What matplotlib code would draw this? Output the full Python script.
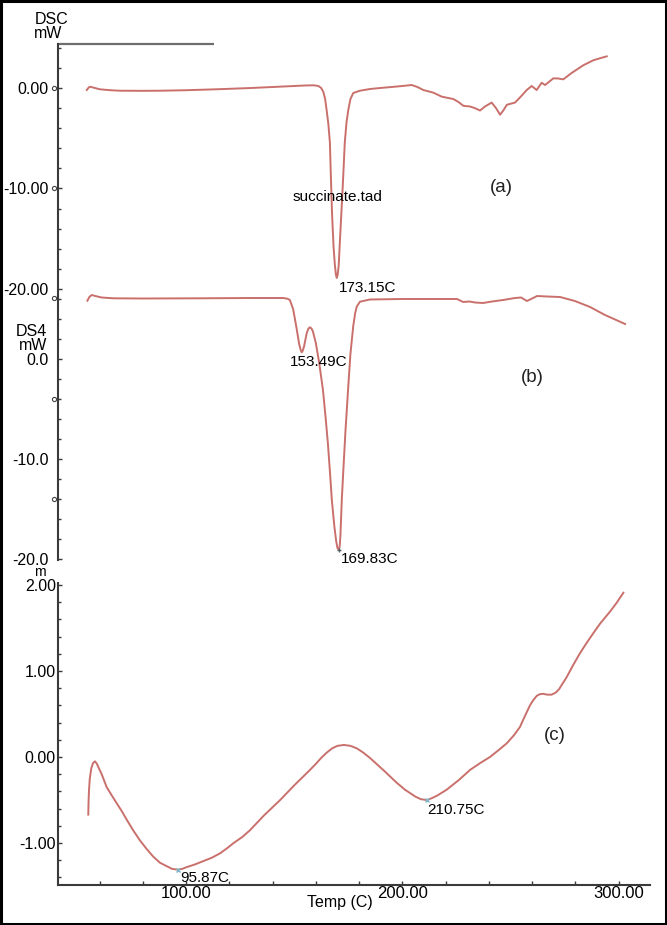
import matplotlib
matplotlib.use("Agg")
import matplotlib.pyplot as plt
from matplotlib.ticker import MultipleLocator, FixedLocator, FixedFormatter

plt.rcParams['font.family'] = ['Liberation Sans', 'DejaVu Sans']

# ---------------- data ----------------
temp_a = [54.1, 55.0, 55.6, 57.0, 60.2, 65.0, 69.5, 80.0, 88.0, 100.0, 115.0, 130.0,
          145.0, 155.0, 159.0, 161.2, 162.5, 163.5, 164.3, 165.0, 165.8, 166.5, 167.0,
          167.5, 168.2, 168.8, 169.3, 169.7, 170.1, 170.6, 171.0, 171.8, 172.6, 173.4,
          174.2, 175.0, 176.0, 177.3, 180.4, 185.0, 189.7, 195.0, 200.0, 204.3, 207.0,
          209.7, 214.3, 218.2, 223.6, 226.0, 228.2, 231.3, 233.5, 235.9, 238.2, 241.3,
          243.3, 245.2, 246.8, 248.3, 252.1, 255.0, 257.5, 259.8, 262.1, 264.4, 266.0,
          269.8, 272.0, 274.4, 278.3, 283.7, 288.3, 292.0, 294.5]
dsc_a = [-0.2, 0.05, 0.13, 0.05, -0.13, -0.22, -0.27, -0.28, -0.27, -0.22, -0.12, 0.0,
         0.15, 0.25, 0.27, 0.2, 0.0, -0.4, -1.1, -2.2, -3.6, -5.4, -9.1,
         -12.5, -15.8, -17.6, -18.6, -18.9, -18.6, -17.6, -15.8, -12.5, -9.1, -5.4,
         -3.4, -2.2, -1.1, -0.5, -0.27, -0.1, 0.0, 0.1, 0.2, 0.3, 0.1,
         -0.2, -0.46, -0.86, -1.1, -1.4, -1.77, -1.84, -2.0, -2.24, -1.84, -1.45,
         -2.0, -2.66, -2.2, -1.67, -1.45, -0.8, -0.2, 0.2, -0.2, 0.52, 0.3,
         0.96, 0.95, 0.86, 1.5, 2.27, 2.76, 3.0, 3.15]

temp_b = [54.4, 55.3, 56.4, 58.0, 61.0, 66.4, 80.0, 106.5, 130.0, 145.0, 147.0, 148.0,
          149.5, 151.0, 152.3, 153.0, 153.5, 154.0, 154.6, 155.8, 156.6, 157.3, 158.0,
          158.6, 160.0, 161.5, 163.3, 164.5, 165.6, 166.6, 167.4, 168.6, 169.4, 170.0,
          170.7, 171.1, 171.4, 172.0, 172.8, 173.7, 174.9, 176.0, 177.3, 178.2, 178.9,
          180.4, 185.0, 200.0, 215.0, 225.3, 228.1, 231.0, 233.6, 237.3, 241.5, 246.6,
          252.1, 254.9, 257.6, 260.0, 262.3, 266.9, 272.9, 279.8, 286.8, 293.7, 303.0]
dsc_b = [5.83, 6.2, 6.4, 6.3, 6.15, 6.07, 6.05, 6.07, 6.1, 6.1, 6.02, 5.9,
         5.0, 3.2, 1.5, 0.9, 0.67, 0.85, 1.3, 2.6, 3.05, 3.17, 3.05,
         2.8, 1.6, -0.3, -3.1, -5.8, -8.5, -11.5, -14.1, -16.8, -18.2, -18.9,
         -19.1, -18.6, -17.5, -14.1, -10.8, -7.2, -3.1, 0.5, 3.3, 4.6, 5.23,
         5.73, 5.95, 6.0, 6.0, 6.0, 5.7, 5.75, 5.65, 5.6, 5.75, 5.9,
         6.1, 6.15, 5.8, 6.05, 6.3, 6.25, 6.2, 5.8, 5.2, 4.4, 3.5]

temp_c = [54.8, 54.9, 55.1, 55.5, 56.2, 57.0, 57.9, 58.8, 59.5, 61.0, 63.3, 65.5, 68.0,
          70.3, 72.6, 75.5, 78.7, 81.8, 84.9, 88.0, 91.1, 93.5, 96.2, 98.3, 100.3,
          104.0, 108.0, 112.0, 115.7, 119.0, 122.0, 126.0, 129.6, 136.0, 143.5, 150.0,
          157.3, 160.0, 162.5, 165.0, 167.5, 170.0, 173.0, 176.0, 179.0, 182.0, 185.0,
          188.5, 192.0, 197.0, 201.2, 206.0, 208.5, 211.3, 213.5, 216.0, 220.5, 226.0,
          231.3, 236.0, 240.5, 244.5, 248.3, 251.5, 254.4, 256.0, 257.5, 259.0, 260.5,
          262.1, 263.5, 265.0, 267.0, 269.0, 271.0, 272.5, 274.0, 276.0, 279.0, 282.2,
          285.3, 288.3, 291.4, 296.0, 299.0, 302.2]
dsc_c = [-0.67, -0.55, -0.4, -0.25, -0.13, -0.07, -0.05, -0.08, -0.12, -0.2, -0.35, -0.44, -0.54,
         -0.63, -0.73, -0.85, -0.97, -1.07, -1.16, -1.23, -1.27, -1.3, -1.31, -1.3, -1.28,
         -1.25, -1.21, -1.17, -1.12, -1.06, -1.0, -0.93, -0.85, -0.68, -0.5, -0.33,
         -0.15, -0.08, -0.01, 0.05, 0.1, 0.13, 0.14, 0.13, 0.1, 0.05, -0.01,
         -0.09, -0.17, -0.29, -0.38, -0.46, -0.49, -0.5, -0.48, -0.45, -0.38, -0.27,
         -0.15, -0.07, 0.0, 0.08, 0.16, 0.25, 0.35, 0.44, 0.52, 0.6, 0.66,
         0.71, 0.73, 0.735, 0.725, 0.725, 0.75, 0.79, 0.85, 0.93, 1.07, 1.21,
         1.33, 1.44, 1.55, 1.69, 1.79, 1.91]

x_major = [100, 200, 300]
x_major_labels = ["100.00", "200.00", "300.00"]
ya_major = [0, -10, -20]
ya_labels = ["0.00", "-10.00", "-20.00"]
yb_major = [0, -10, -20]
yb_labels = ["0.0", "-10.0", "-20.0"]
yc_major = [-1, 0, 1, 2]
yc_labels = ["-1.00", "0.00", "1.00", "2.00"]

peak_c_marks_t = [96.2, 211.3]
peak_c_marks_v = [-1.31, -0.5]
peak_b_mark_t = [170.7]
peak_b_mark_v = [-19.1]

# ---------------- layout ----------------
W, H = 667, 925
fig = plt.figure(figsize=(W / 100, H / 100), dpi=100)
fig.patch.set_facecolor('white')

def fx(px):
    return px / W

def fy(py):
    return 1 - py / H

left_px, right_px = 58, 650
XLIM = (40.8, 314.5)

def make_ax(top_px, bot_px):
    ax = fig.add_axes([fx(left_px), fy(bot_px), fx(right_px) - fx(left_px), fy(top_px) - fy(bot_px)])
    ax.set_facecolor('none')
    for s in ['top', 'right', 'bottom']:
        ax.spines[s].set_visible(False)
    ax.spines['left'].set_color('#3a3a3a')
    ax.spines['left'].set_linewidth(1.5)
    ax.set_xlim(*XLIM)
    ax.set_xticks([])
    ax.tick_params(axis='y', which='both', direction='in', colors='#3a3a3a', labelcolor='black',
                   labelsize=11.5, width=1.0)
    ax.tick_params(axis='y', which='major', length=3)
    ax.tick_params(axis='y', which='minor', length=2.5)
    return ax

ax_a = make_ax(44, 296)
ax_a.set_ylim(-20.7, 4.38)
ax_b = make_ax(296, 560)
ax_b.set_ylim(-20.1, 6.3)
ax_c = make_ax(583, 885)
ax_c.set_ylim(-1.488, 2.023)

line_col = '#c9706c'
for ax, t, v in [(ax_a, temp_a, dsc_a), (ax_b, temp_b, dsc_b), (ax_c, temp_c, dsc_c)]:
    ax.plot(t, v, color=line_col, lw=1.4, clip_on=False, solid_joinstyle='round')

# y ticks
ax_a.yaxis.set_major_locator(FixedLocator(ya_major))
ax_a.yaxis.set_major_formatter(FixedFormatter(ya_labels))
ax_a.yaxis.set_minor_locator(MultipleLocator(2))
ax_a.tick_params(axis='y', which='major', pad=7)

ax_b.yaxis.set_major_locator(FixedLocator(yb_major))
ax_b.yaxis.set_major_formatter(FixedFormatter(yb_labels))
ax_b.yaxis.set_minor_locator(MultipleLocator(2))
ax_b.tick_params(axis='y', which='major', pad=7)

ax_c.yaxis.set_major_locator(FixedLocator(yc_major))
ax_c.yaxis.set_major_formatter(FixedFormatter(yc_labels))
ax_c.yaxis.set_minor_locator(MultipleLocator(0.2))
ax_c.tick_params(axis='y', which='major', pad=1.5)

# bottom axis for panel c
ax_c.spines['bottom'].set_visible(True)
ax_c.spines['bottom'].set_color('#3a3a3a')
ax_c.spines['bottom'].set_linewidth(1.5)
ax_c.xaxis.set_major_locator(FixedLocator(x_major))
ax_c.xaxis.set_major_formatter(FixedFormatter(x_major_labels))
ax_c.xaxis.set_minor_locator(MultipleLocator(20))
ax_c.tick_params(axis='x', which='both', direction='in', colors='#3a3a3a', labelcolor='black',
                 labelsize=12, pad=1, length=3, width=1.0)

# top grey bar of panel a
ax_a.plot([0, (214 - left_px) / (right_px - left_px)], [1, 1], transform=ax_a.transAxes,
          color='#6e6e6e', lw=1.6, clip_on=False, solid_capstyle='butt')

# small 'o' marks beside the axis
o_a = [0, -10]
o_b = [6.1, -4.0, -14.0]
ax_a.plot([-4 / 592] * len(o_a), o_a, transform=ax_a.get_yaxis_transform(), ls='none', marker='o',
          ms=3, mfc='white', mec='#444444', mew=0.8, clip_on=False)
ax_b.plot([-4 / 592] * len(o_b), o_b, transform=ax_b.get_yaxis_transform(), ls='none', marker='o',
          ms=3, mfc='white', mec='#444444', mew=0.8, clip_on=False)

# peak markers
ax_c.plot(peak_c_marks_t, peak_c_marks_v, ls='none', marker='x', ms=3.5, mew=1.0,
          color='#7fb7c6', clip_on=False)
ax_b.plot(peak_b_mark_t, peak_b_mark_v, ls='none', marker='+', ms=3.5, mew=1.0,
          color='#556666', clip_on=False)

# axis titles
tk = dict(fontsize=11.5, color='black')
fig.text(fx(52), fy(19), "DSC", ha='center', va='center', **tk)
fig.text(fx(48), fy(34), "mW", ha='center', va='center', **tk)
fig.text(fx(47), fy(332), "DS4", ha='right', va='center', **tk)
fig.text(fx(47), fy(346), "mW", ha='right', va='center', **tk)
fig.text(fx(46), fy(572), "m", ha='right', va='center', fontsize=10, color='black')
fig.text(fx(340), fy(903), "Temp (C)", ha='center', va='center', fontsize=11.5)

# annotations
an = dict(fontsize=11, color='black')
fig.text(fx(293), fy(197), "succinate.tad", ha='left', va='center', **an)
fig.text(fx(339), fy(288), "173.15C", ha='left', va='center', **an)
fig.text(fx(290), fy(362), "153.49C", ha='left', va='center', **an)
fig.text(fx(341), fy(559), "169.83C", ha='left', va='center', **an)
fig.text(fx(180), fy(878), "95.87C", ha='left', va='center', **an)
fig.text(fx(427), fy(810), "210.75C", ha='left', va='center', **an)
lab = dict(fontsize=13.5, color='#222222')
fig.text(fx(501), fy(188), "(a)", ha='center', va='center', **lab)
fig.text(fx(532), fy(378), "(b)", ha='center', va='center', **lab)
fig.text(fx(555), fy(736), "(c)", ha='center', va='center', **lab)

# frame around the whole picture
fig.patches.append(plt.Rectangle((0.0015, 0.0015), 0.997, 0.997, transform=fig.transFigure,
                                 fill=False, edgecolor='black', lw=2.2))

fig.savefig("out.png", dpi=100, facecolor='white')
